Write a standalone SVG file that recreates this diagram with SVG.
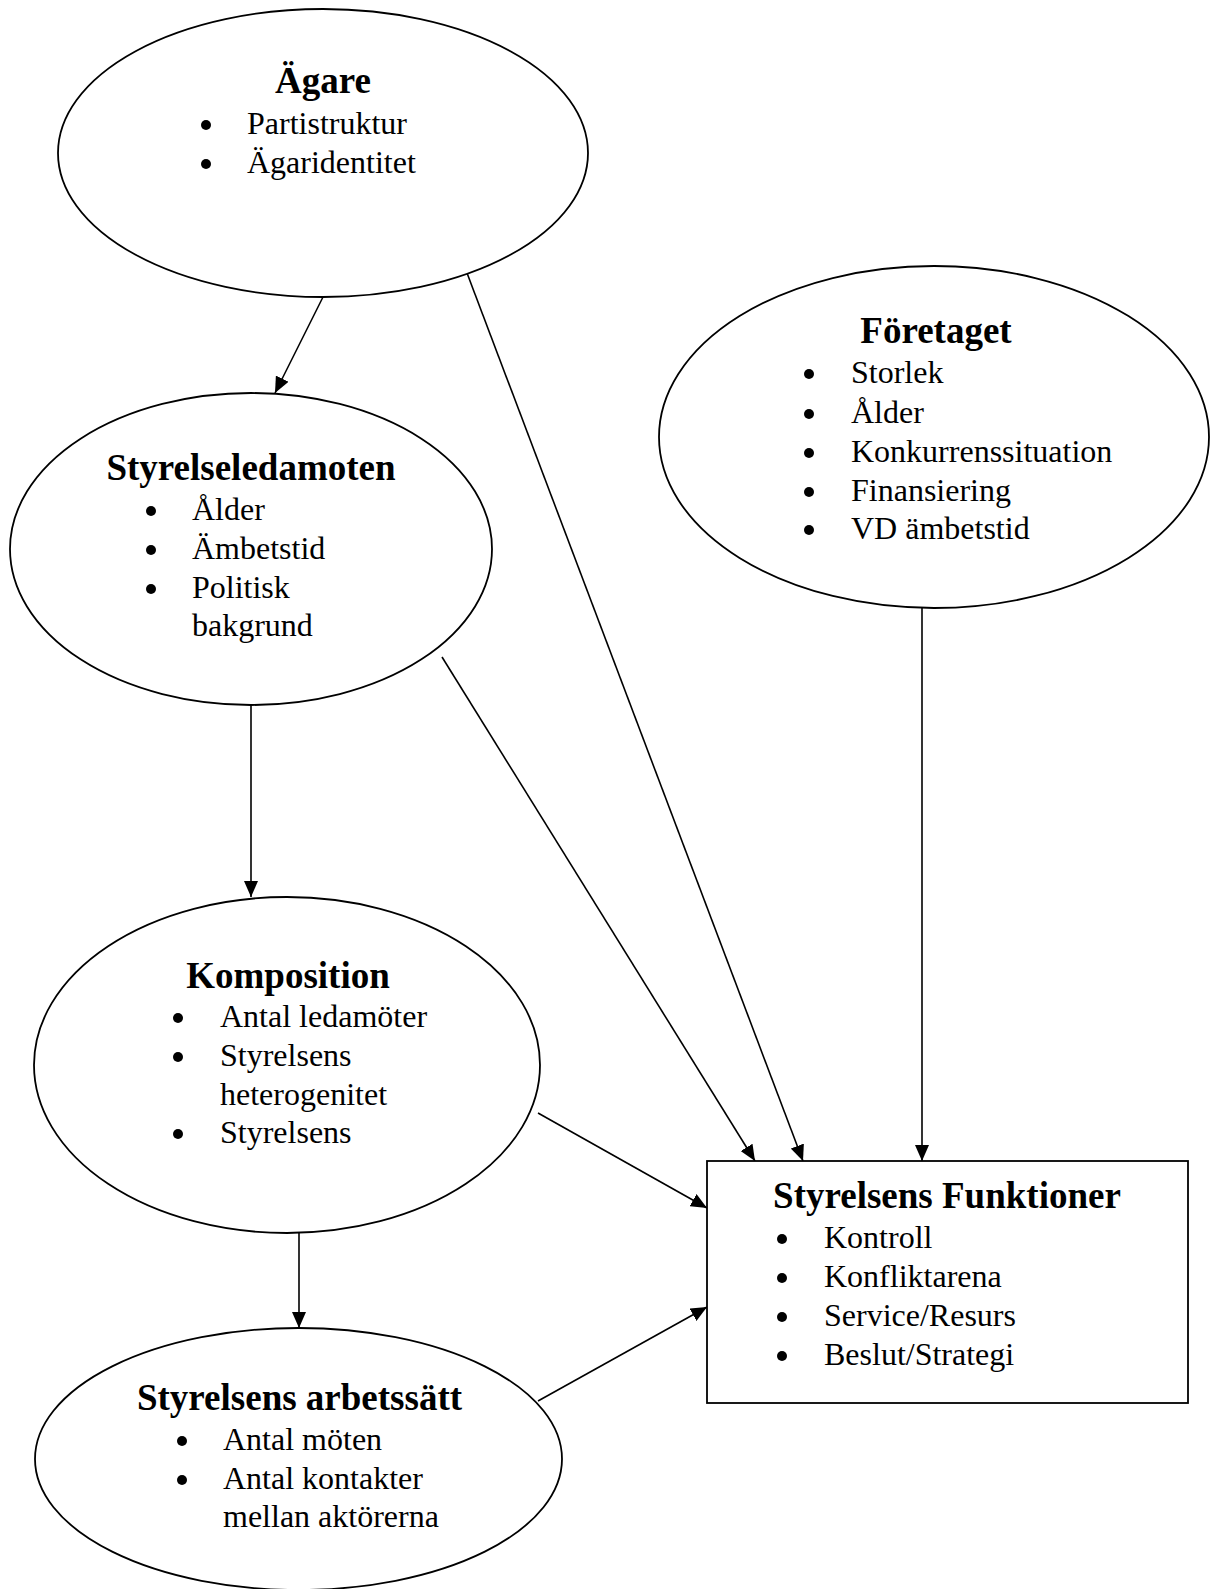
<svg xmlns="http://www.w3.org/2000/svg" width="1211" height="1589" viewBox="0 0 1211 1589">
<style>
.shape{fill:#fff;stroke:#000;stroke-width:1.8}
.t{font-family:"Liberation Serif","Times New Roman",serif;font-size:37px;font-weight:bold;text-anchor:middle;fill:#000}
.b{font-family:"Liberation Serif","Times New Roman",serif;font-size:32px;fill:#000}
.dot{fill:#000}
.c{stroke:#000;stroke-width:1.6;fill:none;marker-end:url(#ah)}
</style>
<defs>
<marker id="ah" markerUnits="userSpaceOnUse" markerWidth="16" markerHeight="14" refX="16" refY="7" orient="auto">
<path d="M0,0 L16,7 L0,14 z" fill="#000"/>
</marker>
</defs>
<rect width="1211" height="1589" fill="#fff"/>
<g id="connectors">
<line class="c" x1="323" y1="297" x2="275" y2="393"/>
<line class="c" x1="467" y1="273" x2="803" y2="1161"/>
<line class="c" x1="922" y1="608" x2="922" y2="1161"/>
<line class="c" x1="442" y1="657" x2="755" y2="1161"/>
<line class="c" x1="251" y1="705" x2="251" y2="897"/>
<line class="c" x1="538" y1="1113" x2="707" y2="1208"/>
<line class="c" x1="299" y1="1233" x2="299" y2="1328"/>
<line class="c" x1="538" y1="1401" x2="707" y2="1307"/>
</g>
<g id="agare">
<ellipse class="shape" cx="323" cy="153" rx="265" ry="144"/>
<text class="t" x="323" y="93">Ägare</text>
<circle class="dot" cx="206" cy="125" r="5"/>
<text class="b" x="247" y="134">Partistruktur</text>
<circle class="dot" cx="206" cy="164" r="5"/>
<text class="b" x="247" y="173">Ägaridentitet</text>
</g>
<g id="foretaget">
<ellipse class="shape" cx="934" cy="437" rx="275" ry="171"/>
<text class="t" x="936" y="343">Företaget</text>
<circle class="dot" cx="809" cy="374" r="5"/>
<text class="b" x="851" y="383">Storlek</text>
<circle class="dot" cx="809" cy="414" r="5"/>
<text class="b" x="851" y="423">Ålder</text>
<circle class="dot" cx="809" cy="453" r="5"/>
<text class="b" x="851" y="462">Konkurrenssituation</text>
<circle class="dot" cx="809" cy="492" r="5"/>
<text class="b" x="851" y="501">Finansiering</text>
<circle class="dot" cx="809" cy="530" r="5"/>
<text class="b" x="851" y="539">VD ämbetstid</text>
</g>
<g id="styrelseledamoten">
<ellipse class="shape" cx="251" cy="549" rx="241" ry="156"/>
<text class="t" x="251" y="480">Styrelseledamoten</text>
<circle class="dot" cx="151" cy="511" r="5"/>
<text class="b" x="192" y="520">Ålder</text>
<circle class="dot" cx="151" cy="550" r="5"/>
<text class="b" x="192" y="559">Ämbetstid</text>
<circle class="dot" cx="151" cy="589" r="5"/>
<text class="b" x="192" y="598">Politisk</text>
<text class="b" x="192" y="636">bakgrund</text>
</g>
<g id="komposition">
<ellipse class="shape" cx="287" cy="1065" rx="253" ry="168"/>
<text class="t" x="288" y="988">Komposition</text>
<circle class="dot" cx="178" cy="1018" r="5"/>
<text class="b" x="220" y="1027">Antal ledamöter</text>
<circle class="dot" cx="178" cy="1057" r="5"/>
<text class="b" x="220" y="1066">Styrelsens</text>
<text class="b" x="220" y="1105">heterogenitet</text>
<circle class="dot" cx="178" cy="1134" r="5"/>
<text class="b" x="220" y="1143">Styrelsens</text>
</g>
<g id="arbetssatt">
<ellipse class="shape" cx="298.5" cy="1459" rx="263.5" ry="131"/>
<text class="t" x="299.5" y="1410">Styrelsens arbetssätt</text>
<circle class="dot" cx="182" cy="1441" r="5"/>
<text class="b" x="223" y="1450">Antal möten</text>
<circle class="dot" cx="182" cy="1480" r="5"/>
<text class="b" x="223" y="1489">Antal kontakter</text>
<text class="b" x="223" y="1527">mellan aktörerna</text>
</g>
<g id="funktioner">
<rect class="shape" x="707" y="1161" width="481" height="242"/>
<text class="t" x="947" y="1208">Styrelsens Funktioner</text>
<circle class="dot" cx="782" cy="1239" r="5"/>
<text class="b" x="824" y="1248">Kontroll</text>
<circle class="dot" cx="782" cy="1278" r="5"/>
<text class="b" x="824" y="1287">Konfliktarena</text>
<circle class="dot" cx="782" cy="1317" r="5"/>
<text class="b" x="824" y="1326">Service/Resurs</text>
<circle class="dot" cx="782" cy="1356" r="5"/>
<text class="b" x="824" y="1365">Beslut/Strategi</text>
</g>
</svg>
